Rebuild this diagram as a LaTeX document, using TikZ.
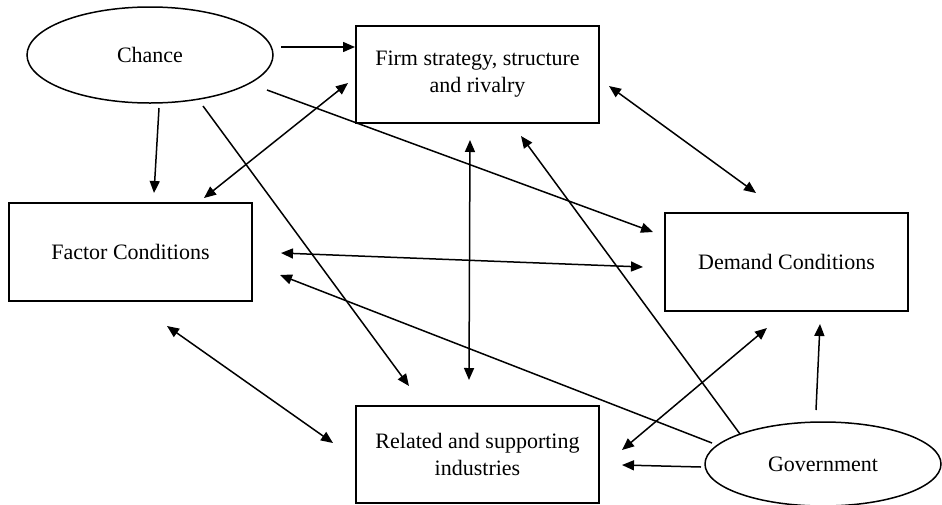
\documentclass[tikz,border=0pt]{standalone}
\usepackage{fontspec}
\setmainfont{Liberation Serif}
\usetikzlibrary{shapes.geometric,arrows.meta}
\tikzset{
  box/.style={draw,line width=1.6pt,minimum width=243pt,minimum height=97pt,align=center,inner sep=0pt,font=\fontsize{22}{27}\selectfont},
  oval/.style={draw,ellipse,line width=1.5pt,inner sep=0pt,font=\fontsize{22}{27}\selectfont},
  conn/.style={line width=1.5pt,-{Triangle[length=12pt,width=10pt]}},
  biconn/.style={line width=1.5pt,{Triangle[length=12pt,width=10pt]}-{Triangle[length=12pt,width=10pt]}}
}
\begin{document}
\begin{tikzpicture}[x=1pt,y=-1pt]
\useasboundingbox (0,0) rectangle (942,504);
\node[oval,minimum width=246pt,minimum height=96pt] (chance) at (150,55) {Chance};
\node[box] (firm) at (477.5,74.5) {Firm strategy, structure\\and rivalry};
\node[box,minimum height=98pt] (factor) at (130.5,252) {Factor Conditions};
\node[box,minimum height=98pt] (demand) at (786.5,262) {Demand Conditions};
\node[box] (related) at (477.5,454.5) {Related and supporting\\industries};
\node[oval,minimum width=236pt,minimum height=84pt] (gov) at (823,464) {Government};
% endpoints
\coordinate (c1) at (281,47);   \coordinate (f1) at (355,47);
\coordinate (c2) at (159,108);  \coordinate (fa2) at (154,193);
\coordinate (fa3) at (204,198); \coordinate (f3) at (348,83);
\coordinate (c4) at (267,90);   \coordinate (d4) at (653,232);
\coordinate (c5) at (203,106);  \coordinate (r5) at (409,386);
\coordinate (f6) at (609,86);   \coordinate (d6) at (756,193);
\coordinate (f7) at (470,140);  \coordinate (r7) at (469,380);
\coordinate (fa8) at (281,253); \coordinate (d8) at (643,267);
\coordinate (g9) at (712,443);  \coordinate (fa9) at (280,275);
\coordinate (g10) at (740,434); \coordinate (f10) at (521,136);
\coordinate (fa11) at (167,326);\coordinate (r11) at (333,443);
\coordinate (d12) at (767,328); \coordinate (r12) at (622,450);
\coordinate (g13) at (701,467); \coordinate (r13) at (622,465);
\coordinate (g14) at (816,410); \coordinate (d14) at (820,324);
\draw[conn] (c1) -- (f1);
\draw[conn] (c2) -- (fa2);
\draw[biconn] (fa3) -- (f3);
\draw[conn] (c4) -- (d4);
\draw[conn] (c5) -- (r5);
\draw[biconn] (f6) -- (d6);
\draw[biconn] (f7) -- (r7);
\draw[biconn] (fa8) -- (d8);
\draw[conn] (g9) -- (fa9);
\draw[conn] (g10) -- (f10);
\draw[biconn] (fa11) -- (r11);
\draw[biconn] (d12) -- (r12);
\draw[conn] (g13) -- (r13);
\draw[conn] (g14) -- (d14);
\end{tikzpicture}
\end{document}
